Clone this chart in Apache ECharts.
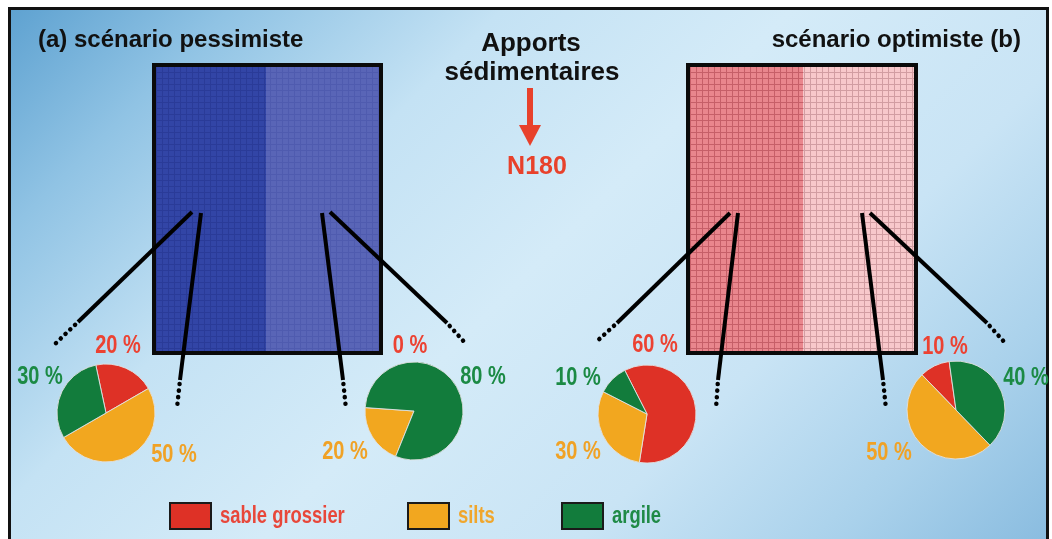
<!DOCTYPE html>
<html>
<head>
<meta charset="utf-8">
<script src="https://cdn.jsdelivr.net/npm/echarts@6/dist/echarts.min.js"></script>
<style>
html,body{margin:0;padding:0;background:#fff;}
#c{width:1052px;height:539px;}
</style>
</head>
<body>
<div id="c"></div>
<script>
// ---- data ----
const categories = ['sable grossier', 'silts', 'argile'];
const pessimisteLeft  = [20, 50, 30];
const pessimisteRight = [0, 20, 80];
const optimisteLeft   = [60, 30, 10];
const optimisteRight  = [10, 50, 40];
const titles = ['(a) scénario pessimiste', 'scénario optimiste (b)'];
const centreTitle = ['Apports', 'sédimentaires'];
const direction = 'N180';

// ---- styles ----
const sliceColors = ['#de3126', '#f2a71f', '#127c3c'];
const labelColors = ['#ec4232', '#f0a226', '#1b8a44'];
const bold = '"Liberation Sans", Arial, sans-serif';

function makePattern(base, line, size) {
  const cv = document.createElement('canvas');
  cv.width = size; cv.height = size;
  const ctx = cv.getContext('2d');
  ctx.fillStyle = base; ctx.fillRect(0, 0, size, size);
  ctx.fillStyle = line;
  ctx.fillRect(0, 0, 1, size);
  ctx.fillRect(0, 0, size, 1);
  return {image: cv, repeat: 'repeat'};
}

const pies = [
  {data: pessimisteLeft,  center: [106, 413], startAngle: 102, clockwise: true,
   labels: [[118, 346], [174, 455], [40, 377]]},
  {data: pessimisteRight, center: [414, 411], startAngle: 248, clockwise: true,
   labels: [[410, 346], [345, 452], [483, 377]]},
  {data: optimisteLeft,   center: [647, 414], startAngle: 117, clockwise: true,
   labels: [[655, 345], [578, 452], [578, 378]]},
  {data: optimisteRight,  center: [956, 410], startAngle: 98, clockwise: false,
   labels: [[945, 347], [889, 453], [1026, 378]]}
];

const series = pies.map(p => ({
  type: 'pie',
  center: p.center,
  radius: 49,
  startAngle: p.startAngle,
  clockwise: p.clockwise,
  minAngle: 0,
  avoidLabelOverlap: false,
  label: {show: false},
  labelLine: {show: false},
  emphasis: {disabled: true},
  animation: false,
  itemStyle: {borderColor: 'rgba(225,225,225,0.9)', borderWidth: 1},
  data: p.data.map((v, i) => ({name: categories[i], value: v, itemStyle: {color: sliceColors[i]}}))
}));

const g = [];
// background
g.push({type: 'rect', z: -10, shape: {x: 10, y: 8, width: 1042, height: 531},
  style: {fill: {type: 'linear', x: 0, y: 0, x2: 800, y2: 800, global: true, colorStops: [
    {offset: 0, color: '#5a9fcf'}, {offset: 0.15, color: '#90c3e4'}, {offset: 0.32, color: '#c4e2f4'},
    {offset: 0.5, color: '#d4ebf8'}, {offset: 0.7, color: '#c9e4f5'}, {offset: 0.86, color: '#a9d1eb'},
    {offset: 1, color: '#88bbdf'}]}}});
// frame
g.push({type: 'polyline', z: -9, shape: {points: [[9.5, 539], [9.5, 8.5], [1047.5, 8.5], [1047.5, 539]]},
  style: {stroke: '#111', lineWidth: 3, fill: null}});
g.push({type: 'rect', z: -9, shape: {x: 1049, y: 0, width: 3, height: 539}, style: {fill: '#fff'}});

// sediment blocks
const blocks = [
  {x: 154, split: 266, x2: 381, a: makePattern('#3245a6', '#2a3b98', 6), b: makePattern('#5965b7', '#4f5baf', 6)},
  {x: 688, split: 803, x2: 916, a: makePattern('#e9868d', '#c65f68', 6), b: makePattern('#f8c8cb', '#d29da2', 6)}
];
blocks.forEach(bk => {
  g.push({type: 'rect', shape: {x: bk.x, y: 65, width: bk.split - bk.x, height: 288}, style: {fill: bk.a}});
  g.push({type: 'rect', shape: {x: bk.split, y: 65, width: bk.x2 - bk.split, height: 288}, style: {fill: bk.b}});
  g.push({type: 'rect', shape: {x: bk.x, y: 65, width: bk.x2 - bk.x, height: 288},
    style: {fill: null, stroke: '#0a0a0a', lineWidth: 4}});
});

// leader lines: start, end of solid, end of dots
const leaders = [
  [[192, 212], [78, 322], [55, 344]],
  [[201, 213], [180, 380], [177, 408]],
  [[322, 213], [343, 380], [346, 409]],
  [[330, 212], [447, 323], [467, 345]],
  [[730, 213], [617, 323], [595, 343]],
  [[738, 213], [718, 380], [716, 409]],
  [[862, 213], [883, 380], [886, 409]],
  [[870, 213], [987, 323], [1007, 345]]
];
leaders.forEach(l => {
  g.push({type: 'line', z: 5, shape: {x1: l[0][0], y1: l[0][1], x2: l[1][0], y2: l[1][1]},
    style: {stroke: '#000', lineWidth: 4, lineCap: 'butt'}});
  g.push({type: 'line', z: 5, shape: {x1: l[1][0], y1: l[1][1], x2: l[2][0], y2: l[2][1]},
    style: {stroke: '#000', lineWidth: 4.5, lineCap: 'round', lineDash: [0.1, 6.5], lineDashOffset: -4}});
});

// titles
g.push({type: 'text', x: 38, y: 40, style: {text: titles[0], font: 'bold 24px ' + bold, fill: '#111', textVerticalAlign: 'middle'}});
g.push({type: 'text', x: 1021, y: 40, style: {text: titles[1], font: 'bold 24px ' + bold, fill: '#111', textAlign: 'right', textVerticalAlign: 'middle'}});
g.push({type: 'text', x: 531, y: 44, style: {text: centreTitle[0], font: 'bold 26px ' + bold, fill: '#111', textAlign: 'center', textVerticalAlign: 'middle'}});
g.push({type: 'text', x: 532, y: 73, style: {text: centreTitle[1], font: 'bold 26px ' + bold, fill: '#111', textAlign: 'center', textVerticalAlign: 'middle'}});
// arrow
g.push({type: 'line', shape: {x1: 530, y1: 88, x2: 530, y2: 128}, style: {stroke: '#e8412b', lineWidth: 6}});
g.push({type: 'polygon', shape: {points: [[519, 125], [541, 125], [530, 146]]}, style: {fill: '#e8412b'}});
g.push({type: 'text', x: 537, y: 167, style: {text: direction, font: 'bold 25px ' + bold, fill: '#e8412b', textAlign: 'center', textVerticalAlign: 'middle'}});

// pie labels (condensed via horizontal scale)
pies.forEach(p => {
  p.data.forEach((v, i) => {
    g.push({type: 'text', x: p.labels[i][0], y: p.labels[i][1], z: 6, scaleX: 0.8,
      style: {text: v + ' %', font: 'bold 25px ' + bold, fill: labelColors[i], textAlign: 'center', textVerticalAlign: 'middle'}});
  });
});

// legend
const legendX = [170, 408, 562];
const legendText = ['#e8473a', '#f0a62c', '#1f8a46'];
categories.forEach((c, i) => {
  g.push({type: 'rect', shape: {x: legendX[i], y: 503, width: 41, height: 26},
    style: {fill: sliceColors[i], stroke: '#1a1a1a', lineWidth: 2}});
  g.push({type: 'text', x: legendX[i] + 50, y: 517, scaleX: 0.8,
    style: {text: c, font: 'bold 23px ' + bold, fill: legendText[i], textVerticalAlign: 'middle'}});
});

const chart = echarts.init(document.getElementById('c'), null, {renderer: 'canvas'});
chart.setOption({animation: false, graphic: {elements: g}, series: series});
</script>
</body>
</html>
